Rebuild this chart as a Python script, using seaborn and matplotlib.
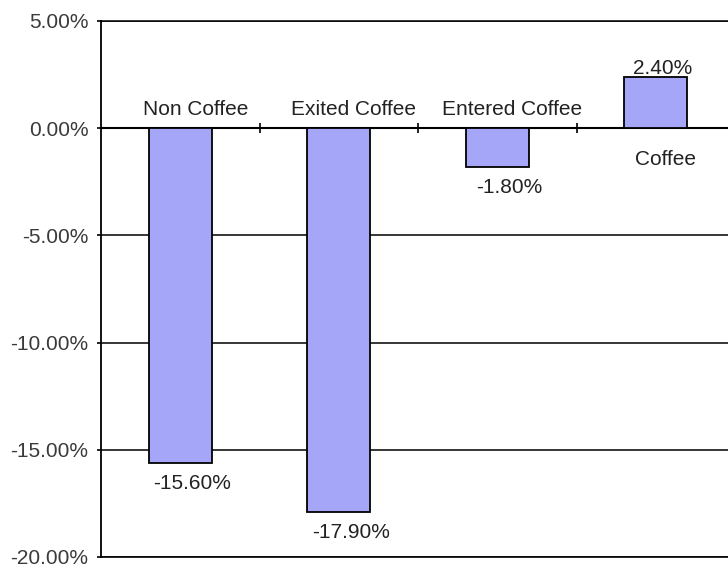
import matplotlib
matplotlib.use("Agg")
import matplotlib.pyplot as plt
import seaborn as sns
import pandas as pd
from matplotlib.transforms import offset_copy
from matplotlib.ticker import FuncFormatter

# Percentage change by customer group
categories = ["Non Coffee", "Exited Coffee", "Entered Coffee", "Coffee"]
changes = [-15.6, -17.9, -1.8, 2.4]
y_ticks = [-20, -15, -10, -5, 0, 5]

df = pd.DataFrame({"category": categories, "change": changes})

sns.set_theme(style="white")
plt.rcParams["font.family"] = ["Liberation Sans", "DejaVu Sans"]

W, H = 728, 569
fig = plt.figure(figsize=(W / 100, H / 100), dpi=100)
ax = fig.add_axes([101 / W, 12 / H, 634 / W, 536 / H])

sns.barplot(data=df, x="category", y="change", color="#A6A6F8",
            saturation=1, width=0.4, edgecolor="black", linewidth=1.3,
            ax=ax, zorder=3)

ax.set_xlim(-0.5, len(categories) - 0.5)
ax.set_ylim(y_ticks[0], y_ticks[-1])
ax.set_xlabel("")
ax.set_ylabel("")

# horizontal grid lines at every tick
ax.set_yticks(y_ticks)
ax.yaxis.set_major_formatter(FuncFormatter(lambda v, _: f"{v:.2f}%"))
ax.yaxis.grid(True, color="black", linewidth=1.1)
ax.set_axisbelow(True)
ax.axhline(y_ticks[0], color="black", linewidth=1.2, clip_on=False, zorder=1)

# zero line carries the category separator ticks
ax.spines["right"].set_visible(False)
ax.spines["top"].set_color("black")
ax.spines["top"].set_linewidth(1.1)
ax.spines["left"].set_color("black")
ax.spines["left"].set_linewidth(1.3)
ax.spines["bottom"].set_position(("data", 0))
ax.spines["bottom"].set_color("black")
ax.spines["bottom"].set_linewidth(1.5)

ax.set_xticks([i + 0.5 for i in range(len(categories) - 1)])
ax.set_xticklabels([])
ax.tick_params(axis="x", direction="inout", length=7, width=1.2,
               color="black", bottom=True)
ax.tick_params(axis="y", direction="out", length=3, width=1.2,
               color="black", left=True, labelsize=15,
               labelcolor="#3a3a3a", pad=6)

fs = 15
tc = "#222222"
for i, (cat, val) in enumerate(zip(categories, changes)):
    if val < 0:
        cat_tr = offset_copy(ax.transData, fig=fig, x=15, y=13, units="dots")
        val_tr = offset_copy(ax.transData, fig=fig, x=12, y=-26, units="dots")
    else:
        cat_tr = offset_copy(ax.transData, fig=fig, x=10, y=-37, units="dots")
        val_tr = offset_copy(ax.transData, fig=fig, x=7, y=3, units="dots")
    ax.text(i, 0, cat, transform=cat_tr, ha="center", va="baseline",
            fontsize=fs, color=tc)
    ax.text(i, val, f"{val:.2f}%", transform=val_tr, ha="center",
            va="baseline", fontsize=fs, color=tc)

fig.savefig("out.png", dpi=100)
